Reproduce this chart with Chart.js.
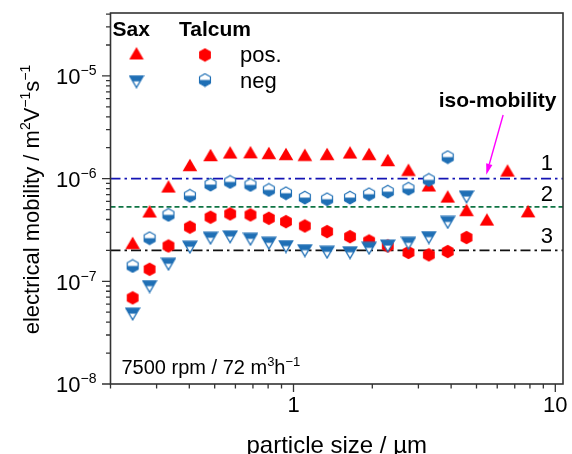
<!DOCTYPE html>
<html>
<head>
<meta charset="utf-8">
<title>electrical mobility vs particle size</title>
<script src="https://cdn.jsdelivr.net/npm/chart.js@4.4.1/dist/chart.umd.min.js"></script>
<style>
  html, body { margin: 0; padding: 0; background: #fff; }
  #wrap { width: 572px; height: 454px; }
</style>
</head>
<body>
<div id="wrap"><canvas id="mobilityChart" width="572" height="454"></canvas></div>
<script>
// particle size classes in µm (shared by all four series)
const sizes = [0.243, 0.282, 0.333, 0.402, 0.482, 0.573, 0.685, 0.805, 0.936, 1.105, 1.344,
               1.644, 1.944, 2.292, 2.749, 3.289, 3.882, 4.58, 5.48, 6.57, 7.87];

// electrical mobility in m^2 V^-1 s^-1
const saxPos = [2.37e-7, 4.8e-7, 8.4e-7, 1.36e-6, 1.70e-6, 1.80e-6, 1.81e-6, 1.78e-6, 1.74e-6, 1.71e-6, 1.74e-6,
                1.80e-6, 1.74e-6, 1.52e-6, 1.22e-6, 8.6e-7, 6.7e-7, 4.96e-7, 4.0e-7, 1.20e-6, 4.82e-7];
const saxNeg = [4.8e-8, 8.9e-8, 1.47e-7, 2.15e-7, 2.63e-7, 2.71e-7, 2.57e-7, 2.35e-7, 2.18e-7, 1.99e-7, 1.92e-7,
                1.90e-7, 2.10e-7, 2.21e-7, 2.35e-7, 2.67e-7, 3.75e-7, 6.64e-7];
const talcPos = [6.9e-8, 1.31e-7, 2.21e-7, 3.37e-7, 4.21e-7, 4.53e-7, 4.43e-7, 4.11e-7, 3.81e-7, 3.46e-7, 3.05e-7,
                 2.72e-7, 2.47e-7, 2.21e-7, 1.91e-7, 1.81e-7, 1.95e-7, 2.67e-7];
const talcNeg = [1.41e-7, 2.63e-7, 4.44e-7, 6.81e-7, 8.74e-7, 9.29e-7, 8.69e-7, 7.76e-7, 7.21e-7, 6.53e-7, 6.30e-7,
                 6.53e-7, 7.05e-7, 7.47e-7, 7.97e-7, 9.71e-7, 1.62e-6];

// iso-mobility levels and their labels
const isoLevels = [1e-6, 5.3e-7, 2e-7];
const isoNames = ['1', '2', '3'];
const isoLabelY = [1.22e-6, 6.1e-7, 2.38e-7];
const isoLabelX = 9.29;

// axes
const xRange = [0.2, 10.7];
const yRange = [1e-8, 4.1e-5];
const xMajor = [1, 10];
const xMajorLabels = ['1', '10'];
const yDecades = [-8, -7, -6, -5];

// annotation: arrow pointing at line 1
const arrowFrom = [6.32, 4.17e-6];
const arrowTo = [5.45, 1.09e-6];
const arrowText = 'iso-mobility';
const arrowTextAt = [6.02, 5.02e-6];

const FONT = "'Liberation Sans', Arial, sans-serif";
const RED = '#ff0000';
const BLUE = '#1f6fb5';

function makeMarker(w, h, draw) {
    const c = document.createElement('canvas');
    c.width = w;
    c.height = h;
    draw(c.getContext('2d'), w, h);
    return c;
}

function hexPath(ctx, cx, cy, r) {
    ctx.beginPath();
    for (let k = 0; k < 6; k++) {
        const a = -Math.PI / 2 + k * Math.PI / 3;
        const px = cx + r * Math.cos(a), py = cy + r * Math.sin(a);
        k ? ctx.lineTo(px, py) : ctx.moveTo(px, py);
    }
    ctx.closePath();
}

const triUp = makeMarker(16, 14, (c) => {
    c.beginPath();
    c.moveTo(8, 0.8); c.lineTo(15.3, 13.2); c.lineTo(0.7, 13.2); c.closePath();
    c.fillStyle = RED;
    c.fill();
});

const triDownHalf = makeMarker(16, 14, (c) => {
    c.beginPath();
    c.moveTo(1.2, 1.2); c.lineTo(14.8, 1.2); c.lineTo(8, 12.8); c.closePath();
    c.fillStyle = '#fff';
    c.fill();
    c.save();
    c.clip();
    c.fillStyle = BLUE;
    c.fillRect(0, 0, 16, 6.6);
    c.restore();
    c.strokeStyle = BLUE;
    c.lineWidth = 1.3;
    c.stroke();
});

const hexRed = makeMarker(14, 15, (c) => {
    hexPath(c, 7, 7.5, 6.8);
    c.fillStyle = RED;
    c.fill();
});

const hexHalf = makeMarker(14, 15, (c) => {
    hexPath(c, 7, 7.5, 6.3);
    c.fillStyle = '#fff';
    c.fill();
    c.save();
    c.clip();
    c.fillStyle = BLUE;
    c.fillRect(0, 7.5, 14, 8);
    c.restore();
    c.strokeStyle = BLUE;
    c.lineWidth = 1.2;
    c.stroke();
});

const pairs = (ys) => ys.map((y, i) => ({ x: sizes[i], y: y }));
const hline = (v) => [{ x: xRange[0], y: v }, { x: xRange[1], y: v }];

// draws text with superscript parts, returns its width
function drawRich(ctx, parts, x, y, base, sup, rise, weight) {
    let cx = x;
    for (const p of parts) {
        ctx.font = `${weight || 'normal'} ${p.sup ? sup : base}px ${FONT}`;
        ctx.fillText(p.t, cx, p.sup ? y - rise : y);
        cx += ctx.measureText(p.t).width;
    }
    return cx - x;
}

function richWidth(ctx, parts, base, sup, weight) {
    let w = 0;
    for (const p of parts) {
        ctx.font = `${weight || 'normal'} ${p.sup ? sup : base}px ${FONT}`;
        w += ctx.measureText(p.t).width;
    }
    return w;
}

const decor = {
    id: 'decor',
    afterDraw(chart) {
        const { ctx, chartArea: a, scales: { x, y } } = chart;
        ctx.save();

        // frame
        ctx.strokeStyle = '#333';
        ctx.lineWidth = 1.6;
        ctx.strokeRect(a.left, a.top, a.right - a.left, a.bottom - a.top);

        // x ticks (outward)
        ctx.lineWidth = 1.3;
        ctx.beginPath();
        for (let d = -1; d <= 1; d++) {
            for (let m = 1; m <= 9; m++) {
                const v = m * Math.pow(10, d);
                if (v < xRange[0] - 1e-9 || v > xRange[1]) continue;
                const px = x.getPixelForValue(v);
                const len = m === 1 ? 8 : 4.5;
                ctx.moveTo(px, a.bottom);
                ctx.lineTo(px, a.bottom + len);
            }
        }
        // y ticks (outward)
        for (let d = -8; d <= -5; d++) {
            for (let m = 1; m <= 9; m++) {
                const v = m * Math.pow(10, d);
                if (v < yRange[0] || v > yRange[1]) continue;
                const py = y.getPixelForValue(v);
                const len = m === 1 ? 8.5 : 4.5;
                ctx.moveTo(a.left, py);
                ctx.lineTo(a.left - len, py);
            }
        }
        ctx.stroke();

        ctx.fillStyle = '#000';
        ctx.textBaseline = 'alphabetic';
        ctx.textAlign = 'left';

        // y tick labels 10^n
        for (const e of yDecades) {
            const py = y.getPixelForValue(Math.pow(10, e));
            const parts = [{ t: '10' }, { t: '\u2212' + Math.abs(e), sup: true }];
            const w = richWidth(ctx, parts, 22, 14);
            drawRich(ctx, parts, 96.5 - w, py + 8.3, 22, 14, 9);
        }

        // y axis title
        const yTitle = [{ t: 'electrical mobility / m' }, { t: '2', sup: true }, { t: 'V' },
                        { t: '\u22121', sup: true }, { t: 's' }, { t: '\u22121', sup: true }];
        const tw = richWidth(ctx, yTitle, 22, 14);
        ctx.save();
        ctx.translate(39, (a.top + a.bottom) / 2 + 1);
        ctx.rotate(-Math.PI / 2);
        drawRich(ctx, yTitle, -tw / 2, 0, 22, 14, 9);
        ctx.restore();

        // legend
        ctx.font = `bold 21px ${FONT}`;
        ctx.fillText('Sax', a.left + 2, 36);
        ctx.fillText('Talcum', a.left + 68.5, 36);
        ctx.drawImage(triUp, a.left + 26 - 8, 53.3 - 7);
        ctx.drawImage(triDownHalf, a.left + 26 - 8, 81.7 - 7);
        ctx.drawImage(hexRed, a.left + 94.5 - 7, 55 - 7.5);
        ctx.drawImage(hexHalf, a.left + 94.5 - 7, 80 - 7.5);
        ctx.font = `22px ${FONT}`;
        ctx.fillText('pos.', a.left + 129.5, 61.5);
        ctx.fillText('neg', a.left + 129.5, 87.5);

        // condition note
        drawRich(ctx, [{ t: '7500 rpm / 72 m' }, { t: '3', sup: true }, { t: 'h' }, { t: '\u22121', sup: true }],
                 a.left + 11, 374, 20, 13, 8);

        // iso-mobility labels
        ctx.textAlign = 'center';
        ctx.font = `22px ${FONT}`;
        isoNames.forEach((n, i) => {
            ctx.fillText(n, x.getPixelForValue(isoLabelX), y.getPixelForValue(isoLabelY[i]));
        });

        // arrow annotation
        ctx.font = `bold 21px ${FONT}`;
        ctx.fillText(arrowText, x.getPixelForValue(arrowTextAt[0]), y.getPixelForValue(arrowTextAt[1]));
        const x0 = x.getPixelForValue(arrowFrom[0]), y0 = y.getPixelForValue(arrowFrom[1]);
        const x1 = x.getPixelForValue(arrowTo[0]), y1 = y.getPixelForValue(arrowTo[1]);
        const ang = Math.atan2(y1 - y0, x1 - x0);
        const hl = 11, hw = 3.2;
        const bx = x1 - hl * Math.cos(ang), by = y1 - hl * Math.sin(ang);
        ctx.strokeStyle = '#ff00ff';
        ctx.fillStyle = '#ff00ff';
        ctx.lineWidth = 1.4;
        ctx.beginPath();
        ctx.moveTo(x0, y0);
        ctx.lineTo(bx, by);
        ctx.stroke();
        ctx.beginPath();
        ctx.moveTo(x1, y1);
        ctx.lineTo(bx + hw * Math.sin(ang), by - hw * Math.cos(ang));
        ctx.lineTo(bx - hw * Math.sin(ang), by + hw * Math.cos(ang));
        ctx.closePath();
        ctx.fill();

        ctx.restore();
    }
};

const ctx = document.getElementById('mobilityChart').getContext('2d');

new Chart(ctx, {
    type: 'scatter',
    data: {
        datasets: [
            { label: 'Talcum neg', data: pairs(talcNeg), pointStyle: hexHalf, pointRadius: 6 },
            { label: 'Sax pos', data: pairs(saxPos), pointStyle: triUp, pointRadius: 6 },
            { label: 'Sax neg', data: pairs(saxNeg), pointStyle: triDownHalf, pointRadius: 6 },
            { label: 'Talcum pos', data: pairs(talcPos), pointStyle: hexRed, pointRadius: 6 },
            { type: 'line', label: isoNames[0], data: hline(isoLevels[0]), borderColor: '#1414b4',
              borderWidth: 1.8, borderDash: [10, 4, 2.5, 4], pointRadius: 0 },
            { type: 'line', label: isoNames[1], data: hline(isoLevels[1]), borderColor: '#0f7444',
              borderWidth: 1.8, borderDash: [5, 3], pointRadius: 0 },
            { type: 'line', label: isoNames[2], data: hline(isoLevels[2]), borderColor: '#111',
              borderWidth: 1.8, borderDash: [10, 4, 2.5, 4], pointRadius: 0 },
        ],
    },
    options: {
        responsive: false,
        animation: false,
        devicePixelRatio: 1,
        layout: { padding: { left: 0, right: 4, top: 13, bottom: 0 } },
        plugins: { legend: { display: false }, tooltip: { enabled: false } },
        scales: {
            x: {
                type: 'logarithmic',
                position: 'bottom',
                min: xRange[0],
                max: xRange[1],
                grid: { display: false, drawTicks: false },
                border: { display: false },
                ticks: {
                    autoSkip: false,
                    maxRotation: 0,
                    padding: 9,
                    color: '#000',
                    font: { family: FONT, size: 22 },
                    callback: (v) => {
                        const i = xMajor.findIndex((m) => Math.abs(m - v) < 1e-9);
                        return i >= 0 ? xMajorLabels[i] : '';
                    },
                },
                title: {
                    display: true,
                    text: 'particle size / \u00b5m',
                    color: '#000',
                    font: { family: FONT, size: 24, lineHeight: 1 },
                    padding: { top: 0, bottom: -4 },
                },
                afterFit: (s) => { s.height = 70; },
            },
            y: {
                type: 'logarithmic',
                min: yRange[0],
                max: yRange[1],
                grid: { display: false, drawTicks: false },
                border: { display: false },
                ticks: { callback: () => '' },
                afterFit: (s) => { s.width = 110.5; },
            },
        },
    },
    plugins: [decor],
});
</script>
</body>
</html>
